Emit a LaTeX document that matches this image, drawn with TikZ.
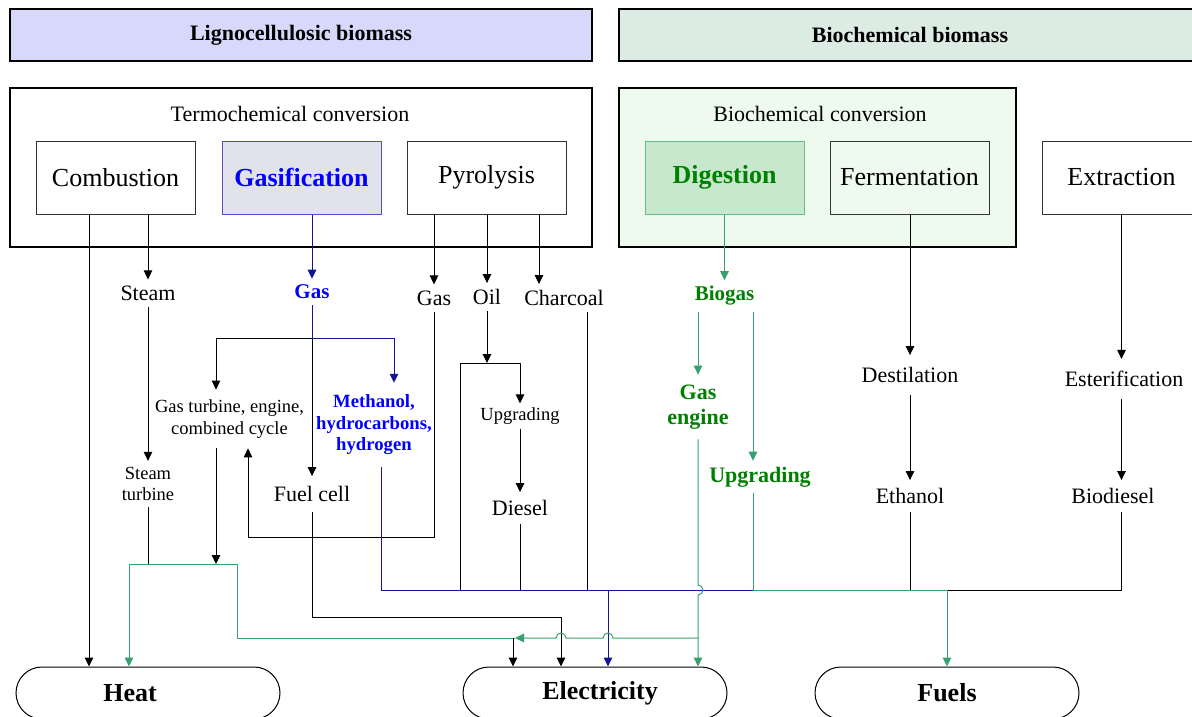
\documentclass[tikz,border=0pt]{standalone}
\usepackage{fontspec}
\setmainfont{Liberation Serif}
\usetikzlibrary{arrows.meta}
\definecolor{lavfill}{RGB}{216,216,250}
\definecolor{mintfill}{RGB}{220,236,228}
\definecolor{biofill}{RGB}{238,250,238}
\definecolor{digfill}{RGB}{200,232,206}
\definecolor{digedge}{RGB}{100,190,140}
\definecolor{gasfill}{RGB}{226,226,236}
\definecolor{gasedge}{RGB}{80,80,200}
\definecolor{navyline}{RGB}{20,20,150}
\definecolor{gline}{RGB}{55,160,110}
\definecolor{gtext}{RGB}{0,128,0}
\definecolor{btext}{RGB}{0,0,255}

\begin{document}
\begin{tikzpicture}[x=1pt,y=-1pt,
	every node/.style={font=\fontsize{22}{25}\selectfont},
	lbl/.style={inner xsep=2pt,inner ysep=6pt,align=center},
	small/.style={font=\fontsize{18.5}{21.5}\selectfont},
	hdr/.style={draw,line width=1.3pt,minimum width=582pt,minimum height=52pt,font=\bfseries\fontsize{22}{25}\selectfont},
	grp/.style={draw,line width=2.4pt,minimum height=159pt,inner sep=0pt},
	pbox/.style={draw=black!80,line width=1pt,minimum width=159pt,minimum height=73pt,inner sep=0pt,font=\fontsize{26}{30}\selectfont},
	term/.style={draw,line width=1pt,rounded corners=26pt,minimum width=264pt,minimum height=52pt,font=\bfseries\fontsize{26}{30}\selectfont},
	con/.style={black,line width=1pt},
	arr/.style={con,-{Triangle[length=9pt,width=8.5pt]}},
	bcon/.style={navyline,line width=1pt},
	barr/.style={bcon,-{Triangle[length=9pt,width=8.5pt]}},
	gcon/.style={gline,line width=1pt},
	garr/.style={gcon,-{Triangle[length=9pt,width=8.5pt]}}]

	\useasboundingbox (0,0) rectangle (1192,717);

	\node[hdr,fill=lavfill] (Hlig) at (301,35) {Lignocellulosic biomass};
	\node[hdr,fill=mintfill] (Hbio) at (910,35) {Biochemical biomass};
	\node[grp,minimum width=582pt] (Tgrp) at (301,167.5) {};
	\node[grp,minimum width=397pt,fill=biofill] (Bgrp) at (817.5,167.5) {};
	\node (Tlab) at (290,114) {Termochemical conversion};
	\node (Blab) at (820,114) {Biochemical conversion};

	\node[pbox] (Comb) at (115.5,177.5) {Combustion};
	\node[pbox,draw=gasedge,fill=gasfill,text=btext,font=\bfseries\fontsize{26}{30}\selectfont] (Gasif) at (301.5,177.5) {Gasification};
	\node[pbox] (Pyro) at (486.5,177.5) {Pyrolysis};
	\node[pbox,draw=digedge,fill=digfill,text=gtext,font=\bfseries\fontsize{26}{30}\selectfont] (Dige) at (724.5,177.5) {Digestion};
	\node[pbox] (Ferm) at (909.5,177.5) {Fermentation};
	\node[pbox,fill=white] (Extr) at (1121.5,177.5) {Extraction};

	\node[lbl] (Steam) at (148,293) {Steam};
	\node[lbl,small] (STurb) at (148,484) {Steam\\turbine};
	\node[lbl,text=btext,font=\bfseries\fontsize{21}{25}\selectfont] (GasG) at (312,292) {Gas};
	\node[lbl,small,inner ysep=10pt] (Gtur) at (229.5,419) {Gas turbine, engine,\\combined cycle};
	\node[lbl,text=btext,font=\bfseries\fontsize{18.7}{21.5}\selectfont,inner ysep=12pt] (Meth) at (374,425) {Methanol,\\hydrocarbons,\\hydrogen};
	\node[lbl,inner ysep=10pt] (Fcell) at (312,494) {Fuel cell};
	\node[lbl] (GasP) at (434,298) {Gas};
	\node[lbl] (Oil) at (487,297) {Oil};
	\node[lbl] (Charc) at (564,298) {Charcoal};
	\node[lbl,small,inner ysep=4pt] (Upg) at (520,416) {Upgrading};
	\node[lbl,inner ysep=8pt] (Diesel) at (520,508) {Diesel};
	\node[lbl,text=gtext,font=\bfseries\fontsize{21}{25}\selectfont] (Biogas) at (724.5,296) {Biogas};
	\node[lbl,text=gtext,font=\bfseries\fontsize{22}{25}\selectfont,inner ysep=10pt] (Gaseng) at (698,407) {Gas\\engine};
	\node[lbl,text=gtext,font=\bfseries\fontsize{22}{25}\selectfont] (Upg2) at (760,477) {Upgrading};
	\node[lbl,inner ysep=12pt] (Destil) at (910,375) {Destilation};
	\node[lbl,inner ysep=8pt] (Ethanol) at (910,496) {Ethanol};
	\node[lbl,inner ysep=12pt] (Ester) at (1124,379) {Esterification};
	\node[lbl,inner ysep=8pt] (Biod) at (1113,496) {Biodiesel};

	\node[term] (Heat) at (148,693) {\hspace*{-36pt}Heat};
	\node[term] (Elec) at (595,693) {\hspace*{10pt}Electricity};
	\node[term] (Fuels) at (947,693) {Fuels};

	\coordinate (ySplit) at (0,338);
	\coordinate (yOil) at (0,363);
	\coordinate (yRet) at (0,537);
	\coordinate (yHeat) at (0,564);
	\coordinate (yBus) at (0,590);
	\coordinate (yFc) at (0,617);
	\coordinate (yEl) at (0,638);
	\coordinate (xC) at (89,0);
	\coordinate (xH) at (129,0);
	\coordinate (xGt) at (216,0);
	\coordinate (xT) at (237,0);
	\coordinate (xR) at (248,0);
	\coordinate (xM) at (381,0);
	\coordinate (xMa) at (394,0);
	\coordinate (xB) at (460,0);
	\coordinate (xK) at (513,0);
	\coordinate (xCa) at (539,0);
	\coordinate (xF) at (561,0);
	\coordinate (xCb) at (587,0);
	\coordinate (xE) at (608,0);
	\coordinate (xU) at (753,0);
	\coordinate (xFu) at (947,0);
	\coordinate (xX) at (1121.5,0);

	\draw[arr] (Comb.south -| xC) -- (Heat.north -| xC);
	\draw[arr] (Comb.south -| Steam) -- (Steam);
	\draw[arr] (Steam) -- (STurb);
	\draw[con] (STurb) -- (STurb |- yHeat);

	\draw[barr] (Gasif.south -| GasG) -- (GasG);
	\draw[arr] (GasG |- ySplit) -| (xGt |- Gtur.north);
	\draw[arr] (GasG |- ySplit) -- (Fcell);
	\draw[barr] (GasG) -- (GasG |- ySplit) -| (xMa |- Meth.north);
	\draw[arr] (xGt |- Gtur.south) -- (xGt |- yHeat);
	\draw[arr] (Fcell) |- (xF |- yFc) -- (xF |- Elec.north);

	\draw[arr] (Pyro.south -| GasP) -- (GasP);
	\draw[arr] (Pyro.south -| Oil) -- (Oil);
	\draw[arr] (Pyro.south -| xCa) -- (xCa |- Charc.north);
	\draw[arr] (GasP) |- (xR |- yRet) -- (xR |- Gtur.south);
	\draw[arr] (Oil) -- (Oil |- yOil);
	\draw[arr] (xB |- yBus) |- (Upg |- yOil) -- (Upg);
	\draw[arr] (Upg) -- (Diesel);
	\draw[con] (Diesel) -- (Diesel |- yBus);
	\draw[con] (xCb |- Charc.south) -- (xCb |- yBus);

	\draw[bcon] (xM |- Meth.south) |- (xU |- yBus);
	\draw[barr] (xE |- yBus) -- (xE |- Elec.north);

	\draw[arr] (Ferm.south -| Destil) -- (Destil);
	\draw[arr] (Destil) -- (Ethanol);
	\draw[con] (Ethanol) -- (Ethanol |- yBus);
	\draw[arr] (Extr.south -| xX) -- (xX |- Ester.north);
	\draw[arr] (xX |- Ester.south) -- (xX |- Biod.north);
	\draw[con] (xX |- Biod.south) |- (xFu |- yBus);

	\draw[garr] (Dige) -- (Biogas);
	\draw[garr] (Biogas.south -| Gaseng) -- (Gaseng);
	\draw[garr] (Biogas.south -| xU) -- (xU |- Upg2.north);
	\draw[garr] (xU |- Upg2.south) |- (xFu |- yBus) -- (xFu |- Fuels.north);
	\draw[garr] (Gaseng) -- (698,585) arc[start angle=-90,end angle=90,radius=5] -- (Gaseng |- Elec.north);
	\draw[garr] (Gaseng |- yEl) -- (613,638) arc[start angle=0,end angle=-180,radius=5] -- (566,638) arc[start angle=0,end angle=-180,radius=5] -- (515,638);
	\draw[garr] (515,638) -| (xT |- yHeat) -| (xH |- Heat.north);
	\draw[arr] (xK |- yEl) -- (xK |- Elec.north);

\end{tikzpicture}
\end{document}
